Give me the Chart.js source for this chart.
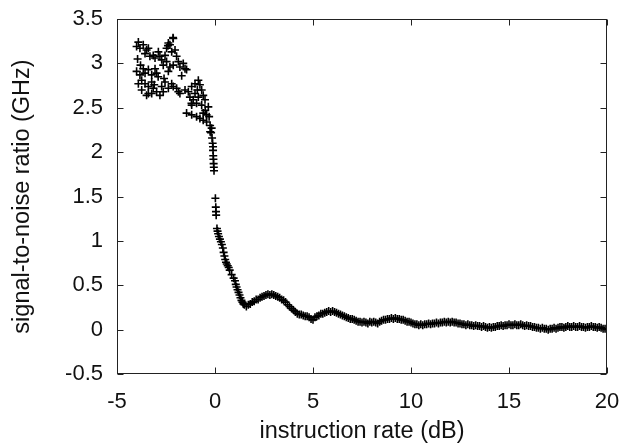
<!DOCTYPE html>
<html>
<head>
<meta charset="utf-8">
<script src="https://cdn.jsdelivr.net/npm/chart.js@4.4.1/dist/chart.umd.min.js"></script>
<style>
  html, body { margin: 0; padding: 0; background: #fff; }
  #myChart { display: block; }
</style>
</head>
<body>
<canvas id="myChart" width="625" height="443"></canvas>
<script>
// left cloud (x < 0)
let cloudX = [-3.91, -4.00, -3.83, -3.66, -3.49, -3.57, -3.40, -3.32, -3.15, -3.06,
  -2.89, -2.81, -2.72, -2.55, -2.47, -2.38, -2.30, -2.13, -2.21, -2.04,
  -1.96, -2.64, -2.47, -2.30, -2.38, -2.13, -1.87, -1.79, -1.62, -1.53,
  -1.45, -4.00, -3.83, -3.66, -3.57, -3.40, -3.23, -3.06, -2.98, -3.74,
  -3.91, -3.57, -3.40, -3.23, -3.15, -2.98, -2.72, -2.55, -2.64, -2.81,
  -2.38, -2.21, -2.13, -1.96, -1.87, -1.79, -3.40, -3.74, -3.49, -3.23,
  -1.53, -1.36, -1.19, -1.02, -0.85, -0.77, -0.68, -1.02, -1.28, -1.11,
  -0.85, -0.60, -0.51, -0.94, -1.19, -0.68, -0.34, -1.45, -1.19, -0.94,
  -0.77, -0.60, -0.43, -0.25, -0.17, -0.25, -0.60, -0.43, -2.40, -2.14,
  -3.95, -3.80, -2.90, -2.60, -1.70, -1.20, -0.90, -0.50, -0.30, -3.10];
let cloudY = [3.24, 3.19, 3.17, 3.21, 3.15, 3.11, 3.17, 3.08, 3.09, 3.06,
  3.13, 3.08, 3.04, 3.09, 3.17, 3.23, 3.21, 3.28, 3.13, 3.15,
  3.08, 2.98, 3.02, 2.96, 2.91, 2.98, 3.02, 2.96, 3.00, 2.94,
  2.93, 2.91, 2.87, 2.94, 2.89, 2.93, 2.87, 2.94, 2.89, 2.81,
  2.77, 2.77, 2.74, 2.79, 2.72, 2.68, 2.74, 2.79, 2.68, 2.64,
  2.72, 2.77, 2.74, 2.72, 2.68, 2.66, 2.66, 2.70, 2.64, 2.66,
  2.70, 2.68, 2.74, 2.77, 2.81, 2.76, 2.70, 2.66, 2.62, 2.59,
  2.62, 2.64, 2.59, 2.55, 2.53, 2.53, 2.51, 2.44, 2.42, 2.40,
  2.38, 2.36, 2.34, 2.30, 2.27, 2.23, 2.44, 2.42, 3.20, 3.29,
  3.05, 2.98, 2.85, 2.83, 2.86, 2.55, 2.70, 2.47, 2.40, 2.76];

// steep drop around 0 dB
let dropX = [-0.20, -0.15, -0.12, -0.10, -0.10, -0.09, -0.08, -0.07, -0.06, -0.05,
  0.02, 0.04, 0.05, 0.06, 0.10, 0.13, 0.16, 0.20, 0.25, 0.30,
  0.35, 0.40, 0.44, 0.48, 0.52, 0.56, 0.60, 0.65, 0.70, 0.75,
  0.85, 0.95, 1.02, 1.06, 1.10, 1.15, 1.20, 1.25, 1.30, 1.35,
  1.40, 1.45];
let dropY = [2.22, 2.16, 2.10, 2.06, 2.02, 1.96, 1.92, 1.87, 1.83, 1.79,
  1.48, 1.38, 1.33, 1.29, 1.14, 1.11, 1.08, 1.05, 1.02, 0.99,
  0.96, 0.92, 0.87, 0.83, 0.79, 0.76, 0.74, 0.72, 0.70, 0.67,
  0.62, 0.58, 0.55, 0.51, 0.48, 0.45, 0.42, 0.39, 0.36, 0.33,
  0.31, 0.29];

// long tail
let tailX = [1.5, 1.6, 1.7, 1.8, 1.9, 2.0, 2.1, 2.2, 2.3, 2.4,
  2.5, 2.6, 2.7, 2.8, 2.9, 3.0, 3.1, 3.2, 3.3, 3.4,
  3.5, 3.6, 3.7, 3.8, 3.9, 4.0, 4.1, 4.2, 4.3, 4.4,
  4.5, 4.6, 4.7, 4.8, 4.9, 5.0, 5.1, 5.2, 5.3, 5.4,
  5.5, 5.6, 5.7, 5.8, 5.9, 6.0, 6.1, 6.2, 6.3, 6.4,
  6.5, 6.6, 6.7, 6.8, 6.9, 7.0, 7.1, 7.2, 7.3, 7.4,
  7.5, 7.6, 7.7, 7.8, 7.9, 8.0, 8.1, 8.2, 8.3, 8.4,
  8.5, 8.6, 8.7, 8.8, 8.9, 9.0, 9.1, 9.2, 9.3, 9.4,
  9.5, 9.6, 9.7, 9.8, 9.9, 10.0, 10.1, 10.2, 10.3, 10.4,
  10.5, 10.6, 10.7, 10.8, 10.9, 11.0, 11.1, 11.2, 11.3, 11.4,
  11.5, 11.6, 11.7, 11.8, 11.9, 12.0, 12.1, 12.2, 12.3, 12.4,
  12.5, 12.6, 12.7, 12.8, 12.9, 13.0, 13.1, 13.2, 13.3, 13.4,
  13.5, 13.6, 13.7, 13.8, 13.9, 14.0, 14.1, 14.2, 14.3, 14.4,
  14.5, 14.6, 14.7, 14.8, 14.9, 15.0, 15.1, 15.2, 15.3, 15.4,
  15.5, 15.6, 15.7, 15.8, 15.9, 16.0, 16.1, 16.2, 16.3, 16.4,
  16.5, 16.6, 16.7, 16.8, 16.9, 17.0, 17.1, 17.2, 17.3, 17.4,
  17.5, 17.6, 17.7, 17.8, 17.9, 18.0, 18.1, 18.2, 18.3, 18.4,
  18.5, 18.6, 18.7, 18.8, 18.9, 19.0, 19.1, 19.2, 19.3, 19.4,
  19.5, 19.6, 19.7, 19.8, 19.9, 20.0];
let tailY = [0.28, 0.26, 0.28, 0.29, 0.31, 0.32, 0.34, 0.34, 0.36, 0.37,
  0.38, 0.39, 0.40, 0.39, 0.40, 0.39, 0.38, 0.37, 0.36, 0.34,
  0.33, 0.31, 0.28, 0.26, 0.24, 0.22, 0.20, 0.18, 0.17, 0.17,
  0.16, 0.15, 0.15, 0.14, 0.12, 0.11, 0.14, 0.15, 0.16, 0.18,
  0.18, 0.19, 0.20, 0.21, 0.20, 0.21, 0.20, 0.19, 0.18, 0.17,
  0.16, 0.15, 0.14, 0.13, 0.12, 0.12, 0.11, 0.10, 0.09, 0.09,
  0.08, 0.09, 0.08, 0.07, 0.09, 0.08, 0.09, 0.08, 0.07, 0.09,
  0.10, 0.11, 0.11, 0.12, 0.12, 0.13, 0.12, 0.13, 0.12, 0.12,
  0.11, 0.11, 0.10, 0.09, 0.09, 0.08, 0.07, 0.06, 0.06, 0.05,
  0.06, 0.05, 0.06, 0.06, 0.07, 0.06, 0.07, 0.07, 0.08, 0.07,
  0.08, 0.08, 0.09, 0.08, 0.09, 0.08, 0.09, 0.08, 0.08, 0.07,
  0.07, 0.06, 0.06, 0.05, 0.06, 0.05, 0.05, 0.04, 0.05, 0.04,
  0.04, 0.03, 0.04, 0.03, 0.02, 0.03, 0.02, 0.03, 0.03, 0.04,
  0.04, 0.05, 0.04, 0.05, 0.05, 0.06, 0.05, 0.05, 0.06, 0.05,
  0.05, 0.06, 0.05, 0.04, 0.05, 0.04, 0.04, 0.03, 0.03, 0.02,
  0.02, 0.01, 0.02, 0.01, 0.01, 0.00, 0.01, 0.01, 0.02, 0.01,
  0.02, 0.03, 0.03, 0.02, 0.03, 0.04, 0.03, 0.03, 0.04, 0.03,
  0.03, 0.04, 0.03, 0.03, 0.02, 0.03, 0.03, 0.04, 0.03, 0.03,
  0.02, 0.03, 0.02, 0.01, 0.01, 0.00];

let xTicks = [-5, 0, 5, 10, 15, 20];
let yTicks = [-0.5, 0, 0.5, 1, 1.5, 2, 2.5, 3, 3.5];

function toPoints(xs, ys) {
    return xs.map((x, i) => ({x: x, y: ys[i]}));
}

// gnuplot style frame with inward ticks on all four sides
const frameTicks = {
    id: 'frameTicks',
    afterDatasetsDraw(chart) {
        const ctx = chart.ctx;
        const a = chart.chartArea;
        const xs = chart.scales.x, ys = chart.scales.y;
        const L = Math.round(a.left) + 0.5, R = Math.round(a.right) - 0.5;
        const T = Math.round(a.top) + 0.5, B = Math.round(a.bottom) - 0.5;
        const len = 6;
        ctx.save();
        ctx.strokeStyle = '#222';
        ctx.lineWidth = 1;
        ctx.beginPath();
        xTicks.forEach(v => {
            const px = Math.round(xs.getPixelForValue(v)) + 0.5;
            ctx.moveTo(px, B); ctx.lineTo(px, B - len);
            ctx.moveTo(px, T); ctx.lineTo(px, T + len);
        });
        yTicks.forEach(v => {
            const py = Math.round(ys.getPixelForValue(v)) + 0.5;
            ctx.moveTo(L, py); ctx.lineTo(L + len, py);
            ctx.moveTo(R, py); ctx.lineTo(R - len, py);
        });
        ctx.stroke();
        ctx.strokeRect(L, T, R - L, B - T);
        ctx.restore();
    }
};

function chartMaker() {
    let myChart = document.getElementById('myChart').getContext('2d');

    Chart.defaults.font.family = '"Liberation Sans", Arial, sans-serif';
    Chart.defaults.color = '#111';

    let data = toPoints(cloudX, cloudY)
        .concat(toPoints(dropX, dropY))
        .concat(toPoints(tailX, tailY));

    new Chart(myChart, {
        type: 'scatter',
        data: {
            datasets: [{
                data: data,
                pointStyle: 'cross',
                pointRadius: 4,
                pointBorderWidth: 1.6,
                borderColor: '#000',
                backgroundColor: '#000',
                showLine: false
            }]
        },
        options: {
            responsive: false,
            animation: false,
            devicePixelRatio: 1,
            layout: { padding: { top: 19, right: 18, left: 0, bottom: 0 } },
            plugins: { legend: { display: false }, tooltip: { enabled: false } },
            scales: {
                x: {
                    type: 'linear',
                    min: -5, max: 20,
                    grid: { display: false, drawTicks: false },
                    border: { display: false },
                    afterFit(scale) {
                        scale.height = 69;
                        scale.paddingLeft = 0;
                        scale.paddingRight = 0;
                    },
                    afterBuildTicks(scale) { scale.ticks = xTicks.map(v => ({value: v})); },
                    ticks: { font: { size: 22 }, padding: 15, maxRotation: 0 },
                    title: {
                        display: true,
                        text: 'instruction rate (dB)',
                        font: { size: 23.5, lineHeight: 1 },
                        padding: { top: 0, bottom: 0 }
                    }
                },
                y: {
                    type: 'linear',
                    min: -0.5, max: 3.5,
                    grid: { display: false, drawTicks: false },
                    border: { display: false },
                    afterFit(scale) {
                        scale.width = 117;
                        scale.paddingTop = 0;
                        scale.paddingBottom = 0;
                    },
                    afterBuildTicks(scale) { scale.ticks = yTicks.map(v => ({value: v})); },
                    ticks: {
                        font: { size: 22 },
                        padding: 14,
                        callback: v => String(v)
                    },
                    title: {
                        display: true,
                        text: 'signal-to-noise ratio (GHz)',
                        font: { size: 23.5, lineHeight: 1 },
                        padding: { top: 11, bottom: 0 }
                    }
                }
            }
        },
        plugins: [frameTicks]
    });
}

chartMaker();
</script>
</body>
</html>
